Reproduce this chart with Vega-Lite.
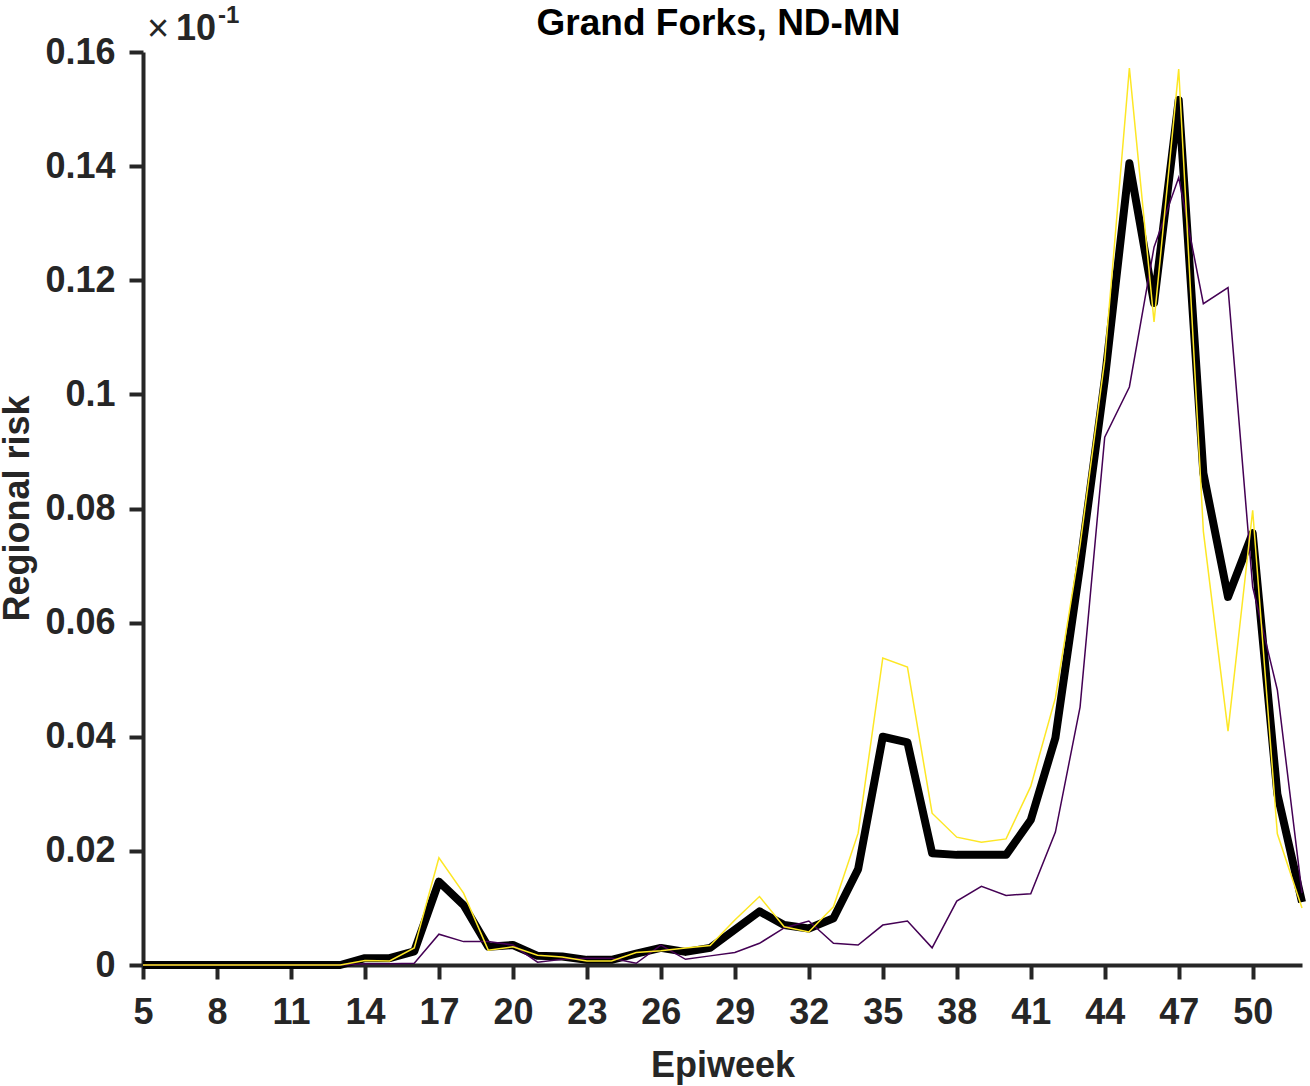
{
  "$schema": "https://vega.github.io/schema/vega-lite/v6.json",
  "autosize": "none",
  "width": 1159,
  "height": 913,
  "padding": {"left": 143, "top": 52, "right": 8, "bottom": 121},
  "background": "white",
  "config": {
    "view": {"stroke": null},
    "font": "Liberation Sans",
    "axis": {
      "grid": false,
      "domainColor": "#262626",
      "domainWidth": 4,
      "tickColor": "#262626",
      "tickWidth": 4,
      "tickSize": 14,
      "labelFont": "Liberation Sans",
      "labelFontSize": 36,
      "labelFontWeight": "bold",
      "labelColor": "#262626",
      "labelPadding": 14,
      "titleFont": "Liberation Sans",
      "titleFontSize": 36,
      "titleFontWeight": "bold",
      "titleColor": "#262626"
    }
  },
  "title": {
    "text": "Grand Forks, ND-MN",
    "font": "Liberation Sans",
    "fontSize": 37,
    "fontWeight": "bold",
    "color": "#000000",
    "anchor": "middle",
    "offset": 13,
    "dx": -4,
    "dy": 52
  },
  "data": {
    "values": [
      {"week": 5, "black": 0, "yellow": 0, "purple": 0},
      {"week": 6, "black": 0, "yellow": 0, "purple": 0},
      {"week": 7, "black": 0, "yellow": 0, "purple": 0},
      {"week": 8, "black": 0, "yellow": 0, "purple": 0},
      {"week": 9, "black": 0, "yellow": 0, "purple": 0},
      {"week": 10, "black": 0, "yellow": 0, "purple": 0},
      {"week": 11, "black": 0, "yellow": 0, "purple": 0},
      {"week": 12, "black": 0, "yellow": 0, "purple": 0},
      {"week": 13, "black": 0, "yellow": 0, "purple": 0},
      {"week": 14, "black": 0.0012, "yellow": 0.0008, "purple": 0.0002},
      {"week": 15, "black": 0.0012, "yellow": 0.0007, "purple": 0.0002},
      {"week": 16, "black": 0.0024, "yellow": 0.003, "purple": 0.0003},
      {"week": 17, "black": 0.0146, "yellow": 0.0188, "purple": 0.0054},
      {"week": 18, "black": 0.0105, "yellow": 0.0126, "purple": 0.0041},
      {"week": 19, "black": 0.0032, "yellow": 0.0026, "purple": 0.0041},
      {"week": 20, "black": 0.0035, "yellow": 0.0032, "purple": 0.0035},
      {"week": 21, "black": 0.0016, "yellow": 0.0017, "purple": 0.0005},
      {"week": 22, "black": 0.0015, "yellow": 0.0014, "purple": 0.001},
      {"week": 23, "black": 0.0009, "yellow": 0.0007, "purple": 0.0012},
      {"week": 24, "black": 0.0009, "yellow": 0.0007, "purple": 0.0012},
      {"week": 25, "black": 0.002, "yellow": 0.0022, "purple": 0.0003},
      {"week": 26, "black": 0.003, "yellow": 0.0025, "purple": 0.0035},
      {"week": 27, "black": 0.0023, "yellow": 0.003, "purple": 0.001},
      {"week": 28, "black": 0.003, "yellow": 0.0034, "purple": 0.0016},
      {"week": 29, "black": 0.0062, "yellow": 0.0079, "purple": 0.0022},
      {"week": 30, "black": 0.0094, "yellow": 0.012, "purple": 0.0038},
      {"week": 31, "black": 0.007, "yellow": 0.0067, "purple": 0.0065},
      {"week": 32, "black": 0.0064, "yellow": 0.0058, "purple": 0.0077},
      {"week": 33, "black": 0.0082, "yellow": 0.0102, "purple": 0.0038},
      {"week": 34, "black": 0.0168, "yellow": 0.0231, "purple": 0.0035},
      {"week": 35, "black": 0.04, "yellow": 0.0538, "purple": 0.007},
      {"week": 36, "black": 0.039, "yellow": 0.0522, "purple": 0.0077},
      {"week": 37, "black": 0.0196, "yellow": 0.0266, "purple": 0.003},
      {"week": 38, "black": 0.0193, "yellow": 0.0224, "purple": 0.0112},
      {"week": 39, "black": 0.0193, "yellow": 0.0215, "purple": 0.0138},
      {"week": 40, "black": 0.0193, "yellow": 0.0221, "purple": 0.0122},
      {"week": 41, "black": 0.0254, "yellow": 0.0313, "purple": 0.0125},
      {"week": 42, "black": 0.0398, "yellow": 0.0468, "purple": 0.0233},
      {"week": 43, "black": 0.07, "yellow": 0.0736, "purple": 0.0452},
      {"week": 44, "black": 0.1025, "yellow": 0.106, "purple": 0.0925},
      {"week": 45, "black": 0.1405, "yellow": 0.1572, "purple": 0.1013},
      {"week": 46, "black": 0.116, "yellow": 0.1127, "purple": 0.1258},
      {"week": 47, "black": 0.1516, "yellow": 0.157, "purple": 0.138},
      {"week": 48, "black": 0.0862, "yellow": 0.076, "purple": 0.1159},
      {"week": 49, "black": 0.0645, "yellow": 0.041, "purple": 0.1187},
      {"week": 50, "black": 0.0757, "yellow": 0.0797, "purple": 0.0662},
      {"week": 51, "black": 0.03, "yellow": 0.023, "purple": 0.0482},
      {"week": 52, "black": 0.011, "yellow": 0.01, "purple": 0.0126}
    ]
  },
  "layer": [
    {
      "mark": {"type": "line", "color": "#000000", "strokeWidth": 8, "strokeJoin": "round", "clip": false},
      "encoding": {
        "x": {
          "field": "week", "type": "quantitative", "title": "Epiweek",
          "scale": {"domain": [5, 52], "nice": false, "zero": false},
          "axis": {
            "values": [5, 8, 11, 14, 17, 20, 23, 26, 29, 32, 35, 38, 41, 44, 47, 50],
            "labelPadding": 16,
            "titleBaseline": "alphabetic",
            "titleY": 111,
            "labelFlush": false,
            "labelOverlap": false
          }
        },
        "y": {
          "field": "black", "type": "quantitative", "title": "Regional risk",
          "scale": {"domain": [0, 0.16], "nice": false},
          "axis": {
            "values": [0, 0.02, 0.04, 0.06, 0.08, 0.1, 0.12, 0.14, 0.16],
            "format": ".2~f",
            "titleAngle": -90,
            "titleAlign": "center",
            "titleBaseline": "bottom",
            "titleX": -107,
            "titleY": 456,
            "labelFlush": false,
            "labelOverlap": false
          }
        }
      }
    },
    {
      "mark": {"type": "line", "color": "#440154", "strokeWidth": 1.5},
      "encoding": {
        "x": {"field": "week", "type": "quantitative", "title": "Epiweek"},
        "y": {"field": "purple", "type": "quantitative", "title": "Regional risk"}
      }
    },
    {
      "mark": {"type": "line", "color": "#FDE725", "strokeWidth": 1.5},
      "encoding": {
        "x": {"field": "week", "type": "quantitative", "title": "Epiweek"},
        "y": {"field": "yellow", "type": "quantitative", "title": "Regional risk"}
      }
    },
    {
      "data": {"values": [{"label": "×"}]},
      "mark": {"type": "text", "align": "center", "baseline": "middle", "dx": 15, "dy": -22, "fontSize": 38, "fontWeight": "normal", "color": "#262626", "font": "Liberation Sans"},
      "encoding": {
        "x": {"datum": 5, "type": "quantitative"},
        "y": {"datum": 0.16, "type": "quantitative"},
        "text": {"field": "label"}
      }
    },
    {
      "data": {"values": [{"label": "10"}]},
      "mark": {"type": "text", "align": "left", "baseline": "alphabetic", "dx": 33, "dy": -12, "fontSize": 36, "fontWeight": "bold", "color": "#262626", "font": "Liberation Sans"},
      "encoding": {
        "x": {"datum": 5, "type": "quantitative"},
        "y": {"datum": 0.16, "type": "quantitative"},
        "text": {"field": "label"}
      }
    },
    {
      "data": {"values": [{"label": "-1"}]},
      "mark": {"type": "text", "align": "left", "baseline": "alphabetic", "dx": 75, "dy": -29, "fontSize": 24, "fontWeight": "bold", "color": "#262626", "font": "Liberation Sans"},
      "encoding": {
        "x": {"datum": 5, "type": "quantitative"},
        "y": {"datum": 0.16, "type": "quantitative"},
        "text": {"field": "label"}
      }
    }
  ]
}
